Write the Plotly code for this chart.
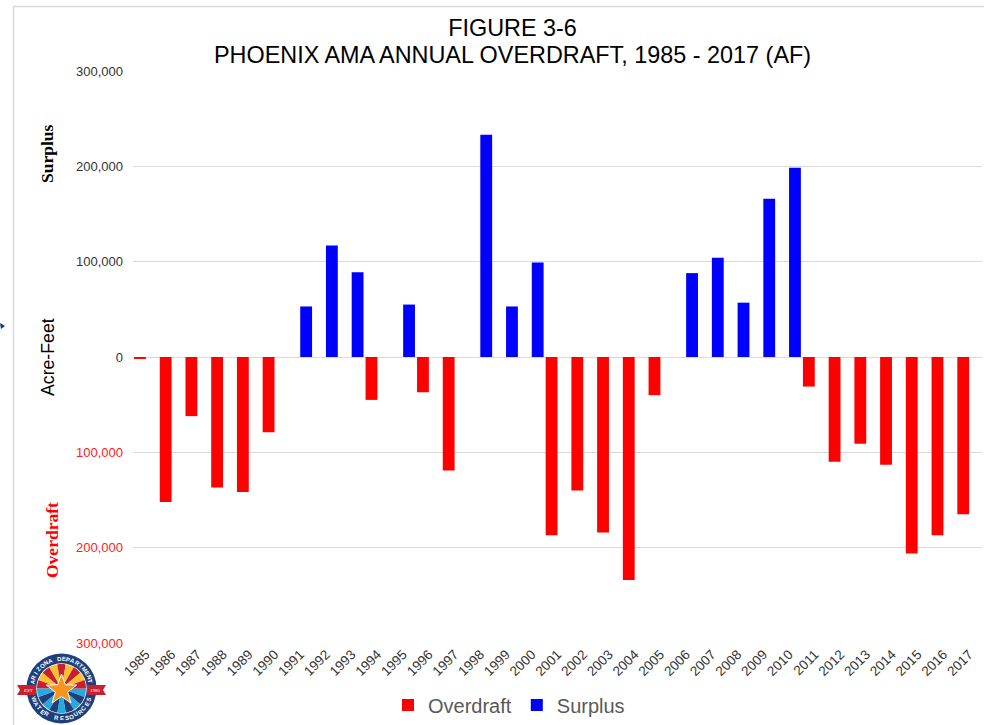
import math
import plotly.graph_objects as go

W, H = 984, 725

YEARS = [str(y) for y in range(1985, 2018)]
OVERDRAFT = [-2000, -152000, -62000, -137000, -141500, -79000, None, None, None, -45000,
             None, -37000, -119000, None, None, None, -187000, -140000, -184000, -234000,
             -40000, None, None, None, None, None, -31000, -110000, -91000, -113000,
             -206000, -187000, -165000]
SURPLUS = [None, None, None, None, None, None, 53000, 117000, 89000, None,
           55000, None, None, 233000, 53000, 99000, None, None, None, None,
           None, 88000, 104000, 57000, 166000, 198500, None, None, None, None,
           None, None, None]
Y_TICKS = [300000, 200000, 100000, 0, -100000, -200000, -300000]
Y_LABELS = ["300,000", "200,000", "100,000", "0",
            '<span style="color:#ff2020">100,000</span>',
            '<span style="color:#ff2020">200,000</span>',
            '<span style="color:#ff2020">300,000</span>']
TITLE_1 = "FIGURE 3-6"
TITLE_2 = "PHOENIX AMA ANNUAL OVERDRAFT, 1985 - 2017 (AF)"


def px(x):
    return x / W


def py(y):
    return 1 - y / H


def path(points):
    return "M" + "L".join(f"{px(x):.5f},{py(y):.5f}" for x, y in points) + "Z"


def wedge(cx, cy, r, a0, a1):
    pts = [(cx, cy)]
    for i in range(9):
        a = math.radians(a0 + (a1 - a0) * i / 8)
        pts.append((cx + r * math.cos(a), cy + r * math.sin(a)))
    return path(pts)


def circle(cx, cy, r, fill, line=None, lw=0):
    return dict(type="circle", xref="paper", yref="paper", x0=px(cx - r), x1=px(cx + r),
                y0=py(cy + r), y1=py(cy - r), fillcolor=fill,
                line=dict(color=line or fill, width=lw))


def poly(points, fill, line=None, lw=0):
    return dict(type="path", xref="paper", yref="paper", path=path(points), fillcolor=fill,
                line=dict(color=line or fill, width=lw))


def label(text, x, y, size, color, family="Liberation Sans", angle=0):
    return dict(text=text, x=px(x), y=py(y), showarrow=False, xref="paper", yref="paper",
                xanchor="center", yanchor="middle", textangle=angle,
                font=dict(family=family, size=size, color=color))


shapes = [
    dict(type="line", xref="paper", yref="paper", x0=px(13.5), x1=px(13.5), y0=0, y1=py(6.5),
         line=dict(color="#d9d9d9", width=1.5)),
    dict(type="line", xref="paper", yref="paper", x0=px(13.5), x1=1, y0=py(6.5), y1=py(6.5),
         line=dict(color="#d9d9d9", width=1.5)),
    poly([(0, 323), (5, 326), (1, 329)], "#14386b"),
]

LX, LY = 61.5, 688.5
shapes.append(circle(LX, LY, 35, "#1d3f7a"))
shapes.append(circle(LX, LY, 25.3, "#ffffff"))
for i in range(9):
    a0 = 180 + 20 * i
    shapes.append(dict(type="path", xref="paper", yref="paper",
                       path=wedge(LX, LY, 24.5, a0, a0 + 20),
                       fillcolor="#c8202f" if i % 2 == 0 else "#fbc02d", line=dict(width=0)))
    a0 = 20 * i
    shapes.append(dict(type="path", xref="paper", yref="paper",
                       path=wedge(LX, LY, 24.5, a0, a0 + 20),
                       fillcolor="#29a8e0" if i % 2 == 0 else "#1d3f7a", line=dict(width=0)))
# ribbons, in front of the ring
shapes.append(poly([(17, 685), (36, 685), (36, 695), (17, 695), (20, 690)], "#c8202f"))
shapes.append(poly([(106, 685), (87, 685), (87, 695), (106, 695), (103, 690)], "#c8202f"))
star = []
for i in range(10):
    r = 16 if i % 2 == 0 else 6.5
    a = math.radians(-90 + 36 * i)
    star.append((LX + r * math.cos(a), 690 + r * math.sin(a)))
shapes.append(poly(star, "#f7941e", "#ffffff", 1))

annotations = [
    label(TITLE_2, 512.5, 55, 23.4, "#000000"),
    label("<b>Surplus</b>", 47, 154, 17.5, "#000000", "Liberation Serif", -90),
    label("<b>Overdraft</b>", 52, 540, 17.5, "#ff0000", "Liberation Serif", -90),
    label("Acre-Feet", 48, 357, 17.7, "#000000", angle=-90),
    label("EST", 28.5, 690, 5, "#ffffff", "Liberation Serif"),
    label("1980", 95, 690, 5, "#ffffff", "Liberation Serif"),
]


def arc_text(word, r, mid, step, top):
    n = len(word)
    for i, ch in enumerate(word):
        if ch == " ":
            continue
        off = (i - (n - 1) / 2) * step
        deg = mid + off if top else mid - off
        a = math.radians(deg)
        annotations.append(label(f"<b>{ch}</b>", LX + r * math.cos(a), LY + r * math.sin(a), 6, "#ffffff",
                                 angle=(deg + 90) if top else (deg - 90)))


arc_text("ARIZONA DEPARTMENT", 29.8, -90, 9, True)
arc_text("WATER RESOURCES", 29.8, 90, 9.8, False)

fig = go.Figure()
fig.add_bar(x=YEARS, y=OVERDRAFT, name="Overdraft", marker=dict(color="#ff0000", line=dict(width=0)))
fig.add_bar(x=YEARS, y=SURPLUS, name="Surplus", marker=dict(color="#0000ff", line=dict(width=0)))

fig.update_layout(
    width=W, height=H, autosize=False,
    margin=dict(l=0, r=0, t=0, b=0),
    paper_bgcolor="#ffffff", plot_bgcolor="#ffffff",
    barmode="group", bargap=0.08, bargroupgap=0,
    title=dict(text=TITLE_1, x=512.5 / W, xanchor="center", y=py(28), yanchor="middle",
               font=dict(family="Liberation Sans", size=23.4, color="#000000")),
    font=dict(family="Liberation Sans"),
    xaxis=dict(domain=[px(133), px(982)], type="category", categoryorder="array", categoryarray=YEARS,
               range=[-0.5, 32.5], tickangle=-45, tickfont=dict(size=13.5, color="#333333"),
               showgrid=False, showline=False, ticks="", zeroline=False, automargin=False,
               tickmode="array", tickvals=YEARS, ticktext=YEARS),
    yaxis=dict(domain=[py(643), py(71)], range=[-300000, 300000], tickmode="array", tickvals=Y_TICKS,
               ticktext=Y_LABELS, tickfont=dict(size=13, color="#333333"), ticklabelstandoff=9,
               gridcolor="#d9d9d9", gridwidth=1.2, zeroline=True, zerolinecolor="#d9d9d9", zerolinewidth=1.2,
               showline=False, ticks="", automargin=False),
    legend=dict(orientation="h", x=509 / W, xanchor="center", y=py(705), yanchor="middle",
                font=dict(size=20, color="#595959", family="Liberation Sans"),
                bgcolor="rgba(0,0,0,0)"),
    shapes=shapes,
    annotations=annotations,
)

fig.write_html("out.html", config={"displayModeBar": False},
               post_script="document.body.style.margin='0';")
